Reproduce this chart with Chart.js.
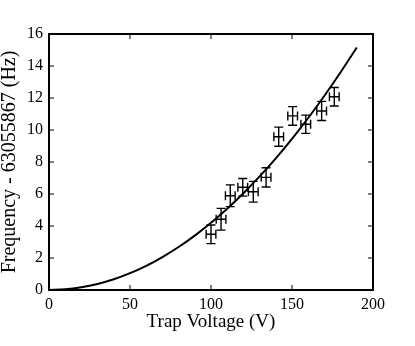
<!DOCTYPE html>
<html>
<head>
<meta charset="utf-8">
<script src="https://cdn.jsdelivr.net/npm/chart.js@4.4.0/dist/chart.umd.min.js"></script>
<style>
  html, body { margin: 0; padding: 0; background: #fff; }
  #chart { display: block; }
</style>
</head>
<body>
<canvas id="chart" width="415" height="346"></canvas>
<script>
// measured points (trap voltage, frequency offset) with error bars
const volts = [100, 106.2, 111.9, 119.6, 126.1, 134, 141.8, 150.4, 158.5, 168.3, 176.1];
const voltErr = [3, 3, 3, 3, 3, 3, 3, 3, 3, 3, 3];
const freq = [3.48, 4.42, 5.89, 6.42, 6.14, 7.04, 9.58, 10.88, 10.36, 11.19, 12.08];
const freqErr = [0.58, 0.68, 0.68, 0.55, 0.65, 0.6, 0.6, 0.58, 0.57, 0.6, 0.58];

// fitted curve
const fitVolts = [0, 10, 20, 30, 40, 50, 60, 70, 80, 90, 100, 110, 120, 130, 140, 150, 160, 170, 180, 190];
const fitFreq = [0, 0.04, 0.17, 0.38, 0.67, 1.05, 1.51, 2.06, 2.69, 3.40, 4.20, 5.08, 6.05, 7.10, 8.23, 9.45, 10.75, 12.14, 13.61, 15.16];

const xTicks = [0, 50, 100, 150, 200];
const yTicks = [0, 2, 4, 6, 8, 10, 12, 14, 16];

const serif = "'Liberation Serif', 'DejaVu Serif', serif";

const toXY = (xs, ys) => xs.map((x, i) => ({ x: x, y: ys[i] }));

// frame, inward ticks and error bars
const extras = {
  id: 'extras',
  afterDatasetsDraw(chart) {
    const ctx = chart.ctx;
    const xs = chart.scales.x;
    const ys = chart.scales.y;
    const a = chart.chartArea;
    ctx.save();
    ctx.strokeStyle = '#000';

    // error bars
    ctx.lineWidth = 1.4;
    const cap = 4.5;
    volts.forEach((v, i) => {
      const px = xs.getPixelForValue(v);
      const py = ys.getPixelForValue(freq[i]);
      const y1 = ys.getPixelForValue(freq[i] + freqErr[i]);
      const y2 = ys.getPixelForValue(freq[i] - freqErr[i]);
      const x1 = xs.getPixelForValue(v - voltErr[i]);
      const x2 = xs.getPixelForValue(v + voltErr[i]);
      ctx.beginPath();
      ctx.moveTo(px, y1); ctx.lineTo(px, y2);
      ctx.moveTo(px - cap, y1); ctx.lineTo(px + cap, y1);
      ctx.moveTo(px - cap, y2); ctx.lineTo(px + cap, y2);
      ctx.moveTo(x1, py); ctx.lineTo(x2, py);
      ctx.moveTo(x1, py - cap); ctx.lineTo(x1, py + cap);
      ctx.moveTo(x2, py - cap); ctx.lineTo(x2, py + cap);
      ctx.stroke();
    });

    // ticks pointing in, on all four sides
    ctx.lineWidth = 1;
    const len = 5;
    ctx.beginPath();
    xTicks.forEach(t => {
      const px = xs.getPixelForValue(t);
      ctx.moveTo(px, a.bottom); ctx.lineTo(px, a.bottom - len);
      ctx.moveTo(px, a.top); ctx.lineTo(px, a.top + len);
    });
    yTicks.forEach(t => {
      const py = ys.getPixelForValue(t);
      ctx.moveTo(a.left, py); ctx.lineTo(a.left + len, py);
      ctx.moveTo(a.right, py); ctx.lineTo(a.right - len, py);
    });
    ctx.stroke();

    ctx.lineWidth = 2;
    ctx.strokeRect(a.left, a.top, a.right - a.left, a.bottom - a.top);
    ctx.restore();
  }
};

const ctx = document.getElementById('chart').getContext('2d');
const myChart = new Chart(ctx, {
  type: 'scatter',
  data: {
    datasets: [
      {
        label: 'fit',
        type: 'line',
        data: toXY(fitVolts, fitFreq),
        borderColor: '#000',
        borderWidth: 2,
        pointRadius: 0,
        cubicInterpolationMode: 'monotone',
        fill: false
      },
      {
        label: 'data',
        data: toXY(volts, freq),
        pointRadius: 0,
        borderColor: '#000',
        backgroundColor: '#000'
      }
    ]
  },
  options: {
    responsive: false,
    animation: false,
    layout: { padding: { top: 34, right: 42, left: 0, bottom: 0 } },
    plugins: {
      legend: { display: false },
      tooltip: { enabled: false }
    },
    scales: {
      x: {
        type: 'linear',
        min: 0,
        max: 200,
        afterBuildTicks: (s) => { s.ticks = xTicks.map(v => ({ value: v })); },
        afterFit: (s) => { s.height = 56; },
        grid: { display: false, drawTicks: false },
        border: { display: false },
        ticks: {
          color: '#000',
          padding: 5,
          maxRotation: 0,
          font: { family: serif, size: 16 }
        },
        title: {
          display: true,
          text: 'Trap Voltage (V)',
          color: '#000',
          font: { family: serif, size: 19 },
          padding: { top: 0, bottom: 13 }
        }
      },
      y: {
        type: 'linear',
        min: 0,
        max: 16,
        afterBuildTicks: (s) => { s.ticks = yTicks.map(v => ({ value: v })); },
        afterFit: (s) => { s.width = 49; },
        grid: { display: false, drawTicks: false },
        border: { display: false },
        ticks: {
          color: '#000',
          padding: 6,
          font: { family: serif, size: 16 }
        },
        title: {
          display: true,
          text: 'Frequency - 63055867 (Hz)',
          color: '#000',
          font: { family: serif, size: 20 },
          padding: { top: -2, bottom: 0 }
        }
      }
    }
  },
  plugins: [extras]
});
</script>
</body>
</html>
